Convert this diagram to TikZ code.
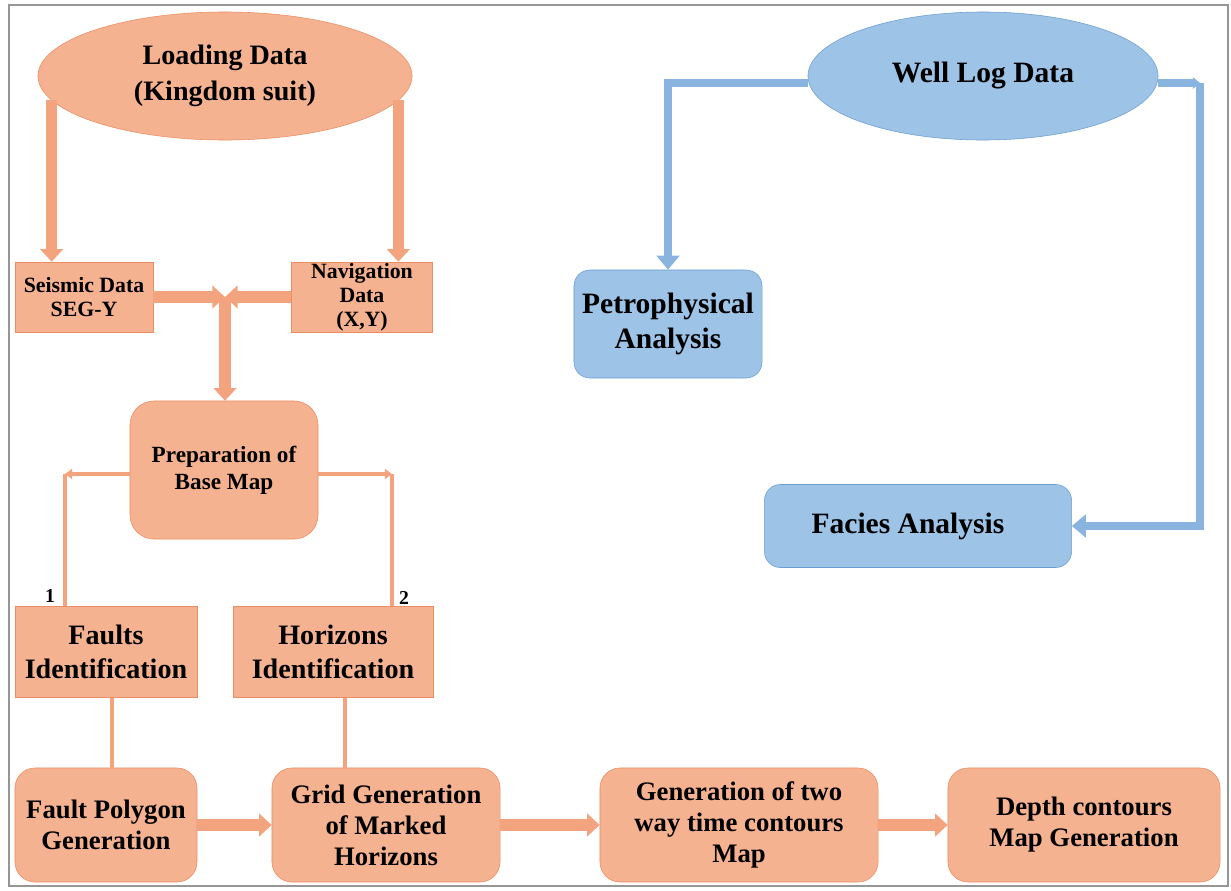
\documentclass[tikz,border=0pt]{standalone}
\usepackage{fontspec}
\setmainfont{Liberation Serif}
\usepackage{tikz}
\usetikzlibrary{
  arrows.meta,
  positioning,
  shapes.geometric,
  calc
}
\definecolor{peach}{RGB}{245,178,145}
\definecolor{peachedge}{RGB}{236,140,98}
\definecolor{peachline}{RGB}{243,163,125}
\definecolor{sky}{RGB}{157,195,230}
\definecolor{skyedge}{RGB}{108,158,210}
\definecolor{skyline}{RGB}{138,180,224}
\definecolor{framegray}{RGB}{150,150,150}

\begin{document}
\begin{tikzpicture}[x=0.025cm, y=-0.025cm,
            orangeoval/.style={ellipse, draw=peachedge, fill=peach, inner sep=0pt, align=center, font=\fontsize{20}{26}\selectfont\bfseries},
            orangebox/.style={rectangle, draw=peachedge, fill=peach, inner sep=0pt, align=center, font=\fontsize{20}{24}\selectfont\bfseries},
            smallbox/.style={orangebox, font=\fontsize{15.5}{17}\selectfont\bfseries},
            roundbox/.style={orangebox, rounded corners=0.5cm, font=\fontsize{19}{22}\selectfont\bfseries},
            blueoval/.style={ellipse, draw=skyedge, fill=sky, inner sep=0pt, align=center, font=\fontsize{21}{25}\selectfont\bfseries},
            bluebox/.style={rectangle, draw=skyedge, fill=sky, rounded corners=0.4cm, inner sep=0pt, align=center, font=\fontsize{21}{25}\selectfont\bfseries},
            blockarrow/.style={draw=peachline, line width=8pt, -{Triangle[width=16pt, length=9pt]}},
            thinline/.style={draw=peachline, line width=3pt},
            thinarrow/.style={thinline, -{Triangle[width=7pt, length=5pt]}},
            bluearrow/.style={draw=skyline, line width=5pt, -{Triangle[width=16pt, length=10pt]}},
            numlabel/.style={font=\fontsize{14}{14}\selectfont\bfseries, inner sep=0pt}]
  \useasboundingbox (0,0) rectangle (1231,890);
  \draw[framegray, line width=2pt] (9,5) rectangle (1228,886);

  % seismic branch
  \node[orangeoval, minimum width=9.35cm, minimum height=3.2cm] (loading) at (225,76) {Loading Data\\(Kingdom suit)};
  \node[smallbox, minimum width=3.45cm, minimum height=1.75cm] (seismic) at (84,297) {Seismic Data\\SEG-Y};
  \node[smallbox, minimum width=3.525cm, minimum height=1.75cm] (navigation) at (362,297) {Navigation\\Data\\(X,Y)};
  \node[orangebox, rounded corners=0.6cm, minimum width=4.7cm, minimum height=3.45cm, font=\fontsize{16.5}{19}\selectfont\bfseries] (prep) at (224,470) {Preparation of\\Base Map};
  \node[orangebox, minimum width=4.55cm, minimum height=2.275cm] (faults) at (106,652) {Faults\\Identification};
  \node[orangebox, minimum width=5cm, minimum height=2.275cm] (horizons) at (333,652) {Horizons\\Identification};
  \node[numlabel] (one) at (50,596) {1};
  \node[numlabel] (two) at (404,598) {2};

  % bottom row
  \node[roundbox, minimum width=4.55cm, minimum height=2.85cm] (polygon) at (106,825) {Fault Polygon\\Generation};
  \node[roundbox, minimum width=5.7cm, minimum height=2.85cm] (grid) at (386,825) {Grid Generation\\of Marked\\Horizons};
  \node[roundbox, minimum width=6.95cm, minimum height=2.85cm] (twt) at (739,825) {Generation of two\\way time contours\\Map};
  \node[roundbox, minimum width=6.8cm, minimum height=2.85cm] (depth) at (1084,825) {Depth contours\\Map Generation};

  % well branch
  \node[blueoval, minimum width=8.75cm, minimum height=3.2cm] (welllog) at (983,76) {Well Log Data};
  \node[bluebox, minimum width=4.7cm, minimum height=2.7cm] (petro) at (668,324) {Petrophysical\\Analysis};
  \node[bluebox, minimum width=7.675cm, minimum height=2.075cm] (facies) at (918,526) {Facies Analysis\hspace*{0.5cm}};

  \coordinate (join) at (225,297);
  \coordinate (fork1) at (65,474);
  \coordinate (fork2) at (392,474);
  \coordinate (wellturn) at (1200,83);

  \draw[blockarrow] (loading.188) -- (loading.188 |- seismic.north);
  \draw[blockarrow] (loading.352) -- (loading.352 |- navigation.north);
  \draw[blockarrow] (seismic.east) -- (join);
  \draw[blockarrow] (navigation.west) -- (join);
  \draw[blockarrow] (join) -- (join |- prep.north);
  \draw[thinarrow] (prep.west |- fork1) -- (fork1);
  \draw[thinline] (fork1) -- (fork1 |- faults.north);
  \draw[thinarrow] (prep.east |- fork2) -- (fork2);
  \draw[thinline] (fork2) -- (fork2 |- horizons.north);
  \draw[thinline] ([xshift=0.15cm]faults.south) -- ([xshift=0.15cm]faults.south |- polygon.north);
  \draw[thinline] ([xshift=0.3cm]horizons.south) -- ([xshift=0.3cm]horizons.south |- grid.north);
  \draw[blockarrow] (polygon.east) -- (grid.west);
  \draw[blockarrow] (grid.east) -- (twt.west);
  \draw[blockarrow] (twt.east) -- (depth.west);

  \draw[bluearrow] (welllog.west |- wellturn) -| (petro.north);
  \draw[bluearrow, -{Triangle[width=8pt, length=5pt]}] (welllog.east |- wellturn) -- (wellturn);
  \draw[bluearrow] (wellturn) |- (facies.east);
\end{tikzpicture}
\end{document}
